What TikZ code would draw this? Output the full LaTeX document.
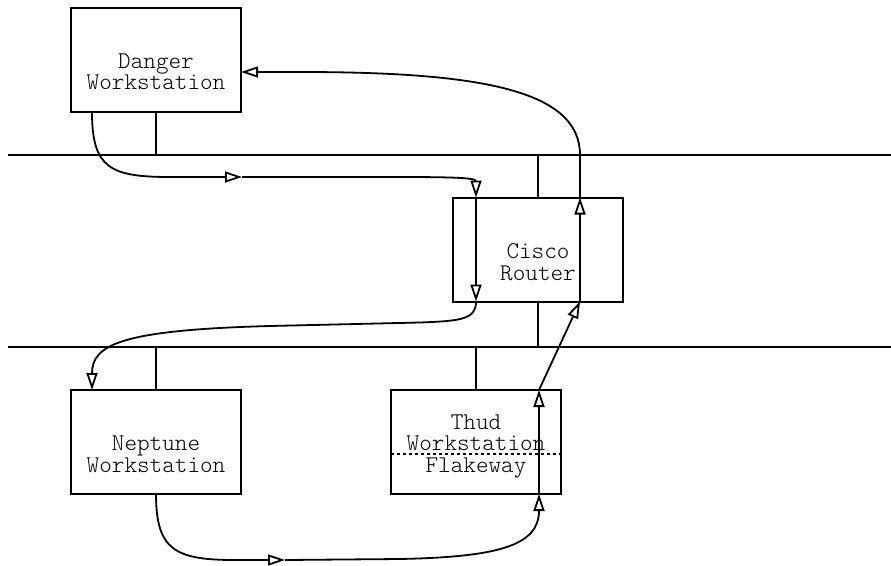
\documentclass[tikz,border=0pt]{standalone}
\usepackage{fontspec}
\setmonofont{Latin Modern Mono Light}
\usetikzlibrary{arrows.meta, positioning, calc}
\tikzstyle{host}     = [rectangle, draw, line width=2pt, minimum width=170pt,
                         minimum height=104pt, inner sep=0pt, outer sep=0pt]
\tikzstyle{hostname} = [align=center, inner sep=0pt,
                         font=\ttfamily\fontsize{24}{21.5}\selectfont]
\tikzstyle{bus}      = [line width=1.6pt]
\tikzstyle{flow}     = [-{Triangle[open, length=17pt, width=11pt]}, line width=1.8pt]

\begin{document}
\begin{tikzpicture}[x=1pt, y=-1pt]
  \useasboundingbox (0,0) rectangle (891,565);

  % Network segments
  \coordinate (upper-w) at (8,155);
  \coordinate (upper-e) at (891,155);
  \coordinate (lower-w) at (8,347);
  \coordinate (lower-e) at (891,347);
  \draw[bus] (upper-w) -- (upper-e);
  \draw[bus] (lower-w) -- (lower-e);

  % Hosts
  \node[host] (danger)  at (156,60)    {};
  \node[host] (cisco)   at (538,249.5) {};
  \node[host] (neptune) at (156,442)   {};
  \node[host] (thud)    at (476,442)   {};

  \node[hostname] (danger-txt)  at ([yshift=-12pt]danger.center)    {Danger\\Workstation};
  \node[hostname] (cisco-txt)   at ([yshift=-12.5pt]cisco.center)   {Cisco\\Router};
  \node[hostname] (neptune-txt) at ([yshift=-12.5pt]neptune.center) {Neptune\\Workstation};
  \node[hostname] (thud-txt)    at ([yshift=-4pt]thud.center)       {Thud\\Workstation\\Flakeway};
  \draw[dashed, line width=1.4pt] ([yshift=-12pt]thud.west) -- ([yshift=-12pt]thud.east);

  % Taps onto the segments
  \draw[bus] (danger.south)  -- (danger.south |- upper-w);
  \draw[bus] (cisco.north)   -- (cisco.north |- upper-w);
  \draw[bus] (cisco.south)   -- (cisco.south |- lower-w);
  \draw[bus] (neptune.north) -- (neptune.north |- lower-w);
  \draw[bus] (thud.north)    -- (thud.north |- lower-w);

  % Points where the flows meet the boxes
  \coordinate (d-out) at ([xshift=-64pt]danger.south);
  \coordinate (d-in)  at ([yshift=-12pt]danger.east);
  \coordinate (c-in)  at ([xshift=-62pt]cisco.north);
  \coordinate (c-out) at ([xshift=-62pt]cisco.south);
  \coordinate (c-up)  at ([xshift=42pt]cisco.south);
  \coordinate (c-top) at ([xshift=42pt]cisco.north);
  \coordinate (n-in)  at ([xshift=-64pt]neptune.north);
  \coordinate (n-out) at (neptune.south);
  \coordinate (t-in)  at ([xshift=63pt]thud.south);
  \coordinate (t-out) at ([xshift=63pt]thud.north);
  \coordinate (mid-a) at (242,177);
  \coordinate (mid-b) at (285,560);

  % Flow -- Danger to Neptune
  \draw[flow] (d-out) .. controls (92,168) and (110,177) .. (170,177) -- (mid-a);
  \draw[flow] (mid-a) -- (400,177) .. controls (455,177) and (476,178) .. (c-in);
  \draw[flow] (c-in) -- (c-out);
  \draw[flow] (c-out) .. controls (476,319) and (462,321) .. (420,322.5) -- (270,326)
                      .. controls (120,330) and (92,345) .. (n-in);

  % Flow -- Neptune to Danger
  \draw[flow] (n-out) .. controls (156,550) and (175,560) .. (235,560) -- (mid-b);
  \draw[flow] (mid-b) -- (400,559) .. controls (500,557) and (539,545) .. (t-in);
  \draw[flow] (t-in) -- (t-out);
  \draw[flow] (t-out) -- (c-up);
  \draw[flow] (c-up) -- (c-top);
  \draw[flow] (c-top) -- (580,155) .. controls (580,90) and (480,72) .. (300,72) -- (d-in);
\end{tikzpicture}
\end{document}
